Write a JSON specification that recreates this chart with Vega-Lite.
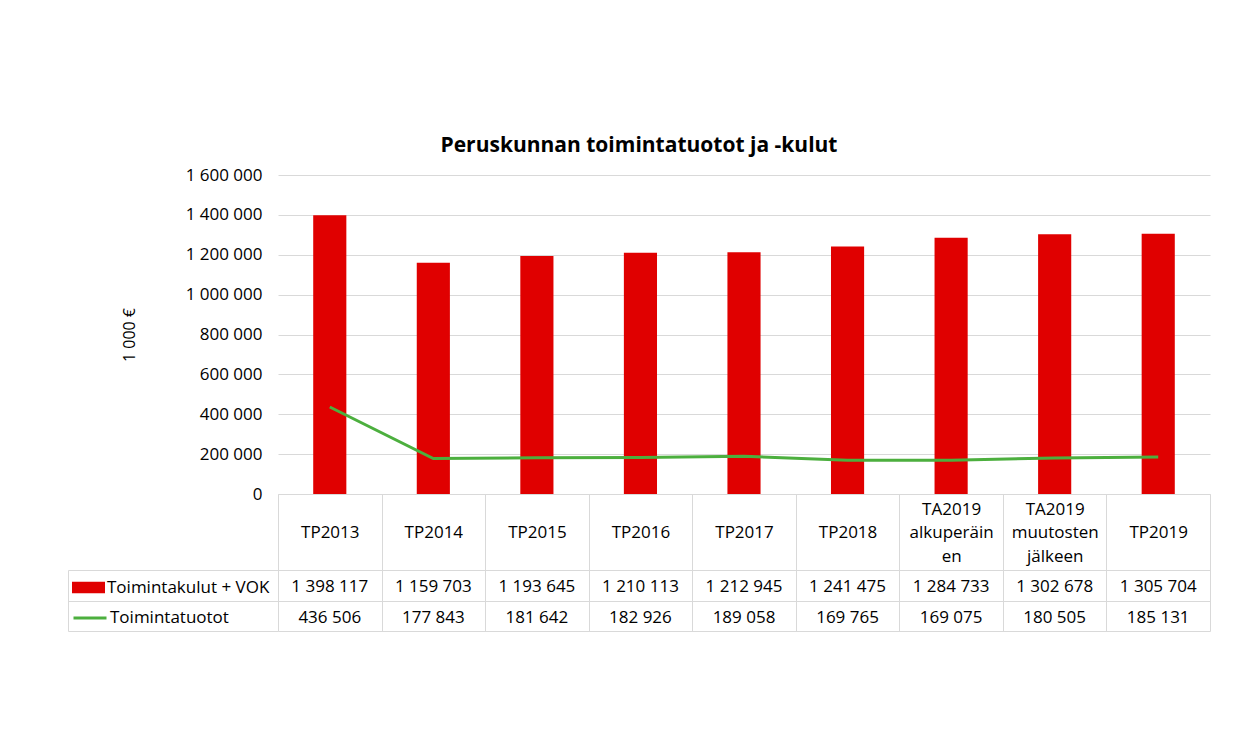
{
  "$schema": "https://vega.github.io/schema/vega-lite/v6.json",
  "autosize": {"type": "none"},
  "padding": {"left": 278, "top": 175, "right": 25, "bottom": 102},
  "width": 932,
  "height": 456,
  "background": "white",
  "title": {"text": "Peruskunnan toimintatuotot ja -kulut", "fontSize": 21, "fontWeight": "bold", "font": "Open Sans", "color": "#000000", "anchor": "middle", "frame": "bounds", "offset": 10},
  "config": {
    "view": {"stroke": null},
    "locale": {"number": {"decimal": ",", "thousands": " ", "grouping": [3], "currency": ["", " €"]}},
    "axis": {"labelFont": "Open Sans", "titleFont": "Open Sans", "labelColor": "#000000", "titleColor": "#000000"},
    "legend": {"labelFont": "Open Sans", "labelLimit": 400}
  },
  "data": {"values": [
    {"kausi": "TP2013", "kulut": 1398117, "tuotot": 436506},
    {"kausi": "TP2014", "kulut": 1159703, "tuotot": 177843},
    {"kausi": "TP2015", "kulut": 1193645, "tuotot": 181642},
    {"kausi": "TP2016", "kulut": 1210113, "tuotot": 182926},
    {"kausi": "TP2017", "kulut": 1212945, "tuotot": 189058},
    {"kausi": "TP2018", "kulut": 1241475, "tuotot": 169765},
    {"kausi": "TA2019 alkuperäinen", "kulut": 1284733, "tuotot": 169075},
    {"kausi": "TA2019 muutosten jälkeen", "kulut": 1302678, "tuotot": 180505},
    {"kausi": "TP2019", "kulut": 1305704, "tuotot": 185131}
  ]},
  "layer": [
    {
      "layer": [
        {
          "mark": {"type": "bar", "width": {"band": 0.32}},
          "encoding": {
            "x": {"field": "kausi", "type": "nominal", "title": null,
              "scale": {"domain": ["TP2013", "TP2014", "TP2015", "TP2016", "TP2017", "TP2018", "TA2019 alkuperäinen", "TA2019 muutosten jälkeen", "TP2019"], "paddingInner": 0, "paddingOuter": 0},
              "axis": {"orient": "bottom", "offset": -137, "labelAngle": 0, "tickBand": "extent", "tickSize": 137, "tickColor": "#d9d9d9", "domainColor": "#d9d9d9", "labelPadding": -122, "labelBaseline": "middle", "labelLineHeight": 23.5, "labelFontSize": 17, "labelOverlap": false, "labelBound": false, "labelFlush": false,
                "labelExpr": "datum.label == 'TA2019 alkuperäinen' ? ['TA2019', 'alkuperäin', 'en'] : datum.label == 'TA2019 muutosten jälkeen' ? ['TA2019', 'muutosten', 'jälkeen'] : ['', datum.label, '']"}},
            "y": {"field": "kulut", "type": "quantitative", "title": "1 000 €",
              "scale": {"domain": [0, 1600000], "range": [319, 0], "nice": false, "zero": true},
              "axis": {"orient": "left", "values": [0, 200000, 400000, 600000, 800000, 1000000, 1200000, 1400000, 1600000], "domain": false, "ticks": false, "grid": true, "gridColor": "#d9d9d9", "labelFontSize": 17, "labelPadding": 16, "titleFontSize": 16, "titleFontWeight": "normal", "titlePadding": 48, "labelExpr": "format(datum.value, ',')"}},
            "fill": {"datum": "Toimintakulut + VOK", "scale": {"range": ["#e00000"]},
              "legend": {"orient": "none", "legendX": -206, "legendY": 396, "title": null, "padding": 0, "symbolType": "M-1,-0.35H1V0.35H-1Z", "symbolSize": 1089, "symbolStrokeWidth": 0, "labelFontSize": 17, "labelColor": "#000000", "labelOffset": 2, "labelLimit": 400}}
          }
        },
        {
          "mark": {"type": "line", "strokeWidth": 3},
          "encoding": {
            "x": {"field": "kausi", "type": "nominal"},
            "y": {"field": "tuotot", "type": "quantitative", "title": "1 000 €",
              "axis": {"orient": "left", "values": [0, 200000, 400000, 600000, 800000, 1000000, 1200000, 1400000, 1600000], "domain": false, "ticks": false, "grid": true, "gridColor": "#d9d9d9", "labelFontSize": 17, "labelPadding": 16, "titleFontSize": 16, "titleFontWeight": "normal", "titlePadding": 48, "labelExpr": "format(datum.value, ',')"}},
            "stroke": {"datum": "Toimintatuotot", "scale": {"range": ["#4caf3e"]},
              "legend": {"orient": "none", "legendX": -206, "legendY": 425, "title": null, "padding": 0, "symbolType": "stroke", "symbolSize": 1089, "symbolStrokeWidth": 3, "labelFontSize": 17, "labelColor": "#000000", "labelOffset": 2, "labelLimit": 400}}
          }
        }
      ]
    },
    {
      "transform": [{"fold": ["kulut", "tuotot"], "as": ["sarja", "arvo"]}],
      "mark": {"type": "text", "fontSize": 17, "font": "Open Sans", "color": "#000000", "baseline": "middle", "dy": 2},
      "encoding": {
        "x": {"field": "kausi", "type": "nominal"},
        "y": {"field": "sarja", "type": "nominal", "title": null,
          "scale": {"domain": ["kulut", "tuotot"], "range": [395, 456], "paddingInner": 0, "paddingOuter": 0},
          "axis": {"orient": "left", "offset": 210, "tickSize": -210, "tickBand": "extent", "labels": false, "domain": true, "domainColor": "#d9d9d9", "tickColor": "#d9d9d9", "grid": true, "gridColor": "#d9d9d9", "title": null}},
        "text": {"field": "arvo", "type": "quantitative", "format": ","}
      }
    }
  ],
  "resolve": {"scale": {"y": "independent"}, "axis": {"y": "independent"}}
}
